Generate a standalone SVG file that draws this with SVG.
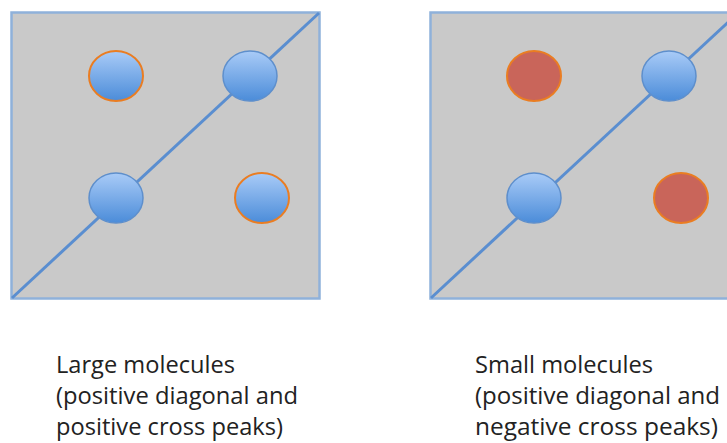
<svg xmlns="http://www.w3.org/2000/svg" width="727" height="443" viewBox="0 0 727 443">
<defs>
<linearGradient id="blue" x1="0" y1="0" x2="0" y2="1">
<stop offset="0" stop-color="#a9cbf7"/>
<stop offset="1" stop-color="#4b8cd9"/>
</linearGradient>
</defs>
<style>
.panel{fill:#c9c9c9;stroke:#8fb1da;stroke-width:2.5}
.diag{stroke:#5a8ed0;stroke-width:3;fill:none}
.pos{fill:url(#blue);stroke:#5e8fcc;stroke-width:1.5}
.cross{fill:url(#blue);stroke:#ea7d22;stroke-width:2}
.neg{fill:#c9655a;stroke:#ea7d22;stroke-width:2}
.lbl{font-family:"Open Sans","Noto Sans",sans-serif;font-size:24px;fill:#222}
</style>
<rect width="727" height="443" fill="#ffffff"/>
<g id="panel-large">
<rect class="panel" x="11.5" y="12.5" width="308" height="286"/>
<line class="diag" x1="12" y1="298" x2="319" y2="13"/>
<ellipse class="cross" cx="116" cy="76" rx="27" ry="25"/>
<ellipse class="pos" cx="250" cy="76" rx="27" ry="25"/>
<ellipse class="pos" cx="116" cy="198" rx="27" ry="25"/>
<ellipse class="cross" cx="262" cy="198" rx="27" ry="25"/>
</g>
<g id="panel-small">
<rect class="panel" x="430.5" y="12.5" width="308" height="286"/>
<line class="diag" x1="431" y1="298" x2="738" y2="13"/>
<ellipse class="neg" cx="534" cy="76" rx="27" ry="25"/>
<ellipse class="pos" cx="669" cy="76" rx="27" ry="25"/>
<ellipse class="pos" cx="534" cy="198" rx="27" ry="25"/>
<ellipse class="neg" cx="681" cy="198" rx="27" ry="25"/>
</g>
<g id="label-large">
<text class="lbl" x="56" y="373" textLength="179" lengthAdjust="spacingAndGlyphs">Large molecules</text>
<text class="lbl" x="56" y="404" textLength="242" lengthAdjust="spacingAndGlyphs">(positive diagonal and</text>
<text class="lbl" x="56" y="435" textLength="227" lengthAdjust="spacingAndGlyphs">positive cross peaks)</text>
</g>
<g id="label-small">
<text class="lbl" x="475" y="373" textLength="178" lengthAdjust="spacingAndGlyphs">Small molecules</text>
<text class="lbl" x="475" y="404" textLength="245" lengthAdjust="spacingAndGlyphs">(positive diagonal and</text>
<text class="lbl" x="475" y="435" textLength="243" lengthAdjust="spacingAndGlyphs">negative cross peaks)</text>
</g>
<g id="connectors"></g>
</svg>
